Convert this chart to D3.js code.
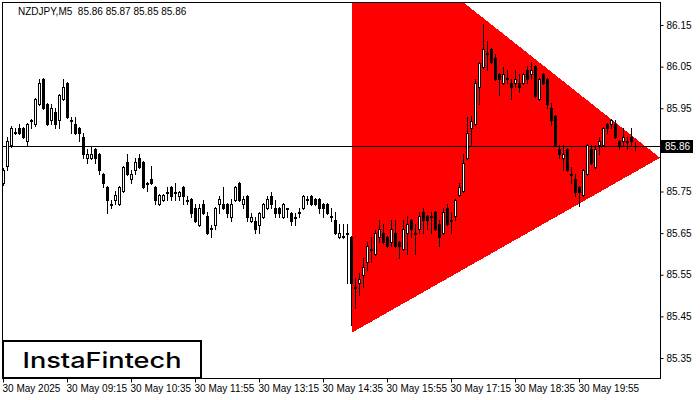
<!DOCTYPE html>
<html><head><meta charset="utf-8">
<script src="https://cdn.jsdelivr.net/npm/d3@7/dist/d3.min.js"></script>
<style>body{margin:0;background:#fff}svg{display:block}text{font-family:"Liberation Sans",Arial,sans-serif}</style>
</head><body><svg id="c" width="700" height="400"></svg>
<script>
const symbol = "NZDJPY,M5";
const lastOHLC = [85.86, 85.87, 85.85, 85.86];
const currentPrice = 85.86;
const open = [85.771,85.812,85.862,85.891,85.903,85.903,85.872,85.920,85.912,85.960,
86.020,85.960,85.922,85.941,85.922,85.972,86.011,85.920,85.912,85.903,
85.881,85.831,85.831,85.852,85.840,85.792,85.761,85.718,85.730,85.720,
85.752,85.821,85.780,85.802,85.831,85.821,85.771,85.780,85.761,85.720,
85.730,85.747,85.761,85.747,85.740,85.761,85.730,85.732,85.711,85.670,
85.720,85.692,85.660,85.670,85.720,85.720,85.720,85.689,85.730,85.771,
85.720,85.740,85.680,85.680,85.670,85.689,85.711,85.740,85.711,85.711,
85.689,85.708,85.699,85.689,85.701,85.711,85.730,85.740,85.732,85.732,
85.720,85.720,85.689,85.682,85.641,85.644,85.651,85.641,85.521,85.531,
85.550,85.581,85.610,85.600,85.641,85.651,85.641,85.629,85.651,85.629,
85.612,85.651,85.682,85.648,85.660,85.701,85.692,85.689,85.701,85.672,
85.651,85.711,85.680,85.692,85.742,85.752,85.831,85.903,85.912,86.001,
86.049,86.082,86.092,86.071,86.032,86.011,86.022,86.011,86.011,86.011,
86.011,86.042,86.032,86.052,85.972,86.032,86.020,85.951,85.932,85.852,
85.831,85.852,85.792,85.780,85.761,85.742,85.792,85.852,85.809,85.862,
85.862,85.912,85.912,85.912,85.872,85.872,85.870,85.881,85.860];
const high = [85.807,85.881,85.908,85.903,85.912,85.905,85.915,85.924,85.975,86.020,
86.023,85.963,85.960,85.951,85.984,86.020,86.013,85.929,85.929,85.905,
85.891,85.852,85.860,85.855,85.843,85.795,85.764,85.730,85.752,85.764,
85.812,85.840,85.802,85.831,85.840,85.824,85.773,85.812,85.764,85.744,
85.744,85.761,85.764,85.771,85.752,85.764,85.740,85.735,85.720,85.720,
85.730,85.701,85.670,85.713,85.740,85.761,85.723,85.732,85.764,85.773,
85.740,85.742,85.699,85.689,85.701,85.723,85.740,85.749,85.730,85.713,
85.723,85.711,85.701,85.699,85.711,85.742,85.740,85.742,85.735,85.735,
85.723,85.723,85.711,85.701,85.672,85.672,85.672,85.644,85.543,85.555,
85.591,85.629,85.641,85.658,85.682,85.672,85.644,85.682,85.682,85.632,
85.682,85.692,85.684,85.672,85.701,85.711,85.694,85.701,85.704,85.682,
85.711,85.720,85.701,85.732,85.771,85.840,85.929,85.932,86.020,86.061,
86.152,86.112,86.095,86.080,86.035,86.049,86.042,86.020,86.042,86.032,
86.035,86.052,86.061,86.054,86.023,86.035,86.023,85.963,85.934,85.862,
85.862,85.855,85.809,85.792,85.764,85.804,85.864,85.862,85.862,85.881,
85.905,85.915,85.924,85.922,85.874,85.903,85.881,85.903,85.870];
const low = [85.766,85.802,85.857,85.888,85.888,85.879,85.862,85.903,85.908,85.958,
85.948,85.910,85.912,85.903,85.903,85.970,85.927,85.891,85.888,85.872,
85.831,85.819,85.828,85.819,85.792,85.761,85.699,85.711,85.720,85.718,
85.749,85.790,85.771,85.792,85.807,85.759,85.752,85.768,85.720,85.718,
85.728,85.730,85.730,85.730,85.730,85.720,85.720,85.689,85.677,85.668,
85.696,85.648,85.641,85.660,85.699,85.708,85.689,85.680,85.728,85.728,
85.711,85.680,85.677,85.651,85.651,85.687,85.708,85.711,85.689,85.689,
85.687,85.689,85.670,85.670,85.689,85.708,85.720,85.718,85.718,85.699,
85.689,85.696,85.680,85.648,85.639,85.639,85.531,85.430,85.471,85.502,
85.521,85.562,85.581,85.598,85.629,85.627,85.617,85.620,85.617,85.591,
85.610,85.600,85.641,85.600,85.651,85.651,85.660,85.651,85.658,85.620,
85.648,85.670,85.651,85.682,85.740,85.749,85.828,85.862,85.910,85.960,
86.047,86.042,86.059,86.018,85.982,86.008,86.011,85.972,86.001,85.989,
86.008,86.011,86.020,85.977,85.970,86.008,85.951,85.910,85.860,85.831,
85.802,85.800,85.771,85.740,85.716,85.740,85.790,85.816,85.807,85.840,
85.860,85.891,85.903,85.879,85.852,85.862,85.852,85.862,85.850];
const close = [85.802,85.872,85.903,85.893,85.891,85.881,85.912,85.922,85.972,86.011,
85.951,85.912,85.951,85.912,85.982,86.001,85.929,85.922,85.891,85.891,
85.840,85.840,85.840,85.831,85.802,85.771,85.730,85.720,85.742,85.761,
85.809,85.792,85.792,85.821,85.809,85.761,85.768,85.771,85.730,85.742,
85.742,85.749,85.740,85.749,85.749,85.740,85.728,85.699,85.680,85.711,
85.699,85.651,85.663,85.711,85.732,85.711,85.699,85.720,85.761,85.730,
85.732,85.689,85.689,85.660,85.699,85.720,85.732,85.720,85.699,85.699,
85.720,85.711,85.680,85.687,85.699,85.740,85.732,85.720,85.720,85.711,
85.711,85.699,85.692,85.651,85.651,85.641,85.648,85.531,85.519,85.540,
85.569,85.620,85.612,85.651,85.660,85.629,85.620,85.660,85.620,85.620,
85.660,85.672,85.660,85.651,85.692,85.682,85.682,85.692,85.660,85.641,
85.701,85.672,85.682,85.730,85.761,85.819,85.891,85.920,86.011,86.059,
86.092,86.080,86.061,86.020,86.020,86.032,86.020,86.001,86.020,86.001,
86.032,86.020,86.042,85.980,86.020,86.011,85.960,85.922,85.862,85.840,
85.840,85.802,85.790,85.749,85.749,85.802,85.862,85.819,85.852,85.872,
85.903,85.903,85.922,85.881,85.862,85.881,85.872,85.872,85.860];
// x-axis tick labels and the bar index they sit on (5-minute bars)
const xTickBars = [0,16,32,48,64,80,96,112,128,144];
const xTickLabels = ["30 May 2025","30 May 09:15","30 May 10:35","30 May 11:55","30 May 13:15","30 May 14:35","30 May 15:55","30 May 17:15","30 May 18:35","30 May 19:55"];
const yTicks = [85.35,85.45,85.55,85.65,85.75,85.85,85.95,86.05,86.15];
// bearish triangle pattern vertices: [bar index, price]
const triBars = [87.25, 87.25, 164.25];
const triPrices = [86.416, 85.411, 85.831];
const logoText = "InstaFintech";

const svg = d3.select("#c");
const L = 2.5, R = 660.5, T = 2.5, B = 378.5;
const x = d3.scaleLinear().domain([0, 164.25]).range([3, 660]);
const y = d3.scaleLinear().domain([85.35, 86.15]).range([358, 25]);

svg.append("defs").append("clipPath").attr("id","plot")
  .append("rect").attr("x",L).attr("y",T).attr("width",R-L).attr("height",B-T);
const g = svg.append("g").attr("clip-path","url(#plot)");

// triangle
g.append("path")
  .attr("d", d3.line()(triBars.map((b,i)=>[x(b), y(triPrices[i])])) + "Z")
  .attr("fill","#ff0000").attr("shape-rendering","crispEdges");

// current price line
const yp = Math.round(y(currentPrice)) + 0.5;
g.append("line").attr("x1",L).attr("x2",R).attr("y1",yp).attr("y2",yp)
  .attr("stroke","#000").attr("stroke-width",1);

// candles
const idx = d3.range(open.length);
const cg = g.append("g").attr("shape-rendering","crispEdges");
idx.forEach(i=>{
  const cx = Math.round(x(i));
  const yh = Math.round(y(high[i])), yl = Math.round(y(low[i]));
  const yo = Math.round(y(open[i])), yc = Math.round(y(close[i]));
  cg.append("line").attr("x1",cx+0.5).attr("x2",cx+0.5).attr("y1",yh).attr("y2",yl+1).attr("stroke","#000");
  const top = Math.min(yo,yc), bot = Math.max(yo,yc);
  if (bot - top < 1) {
    cg.append("line").attr("x1",cx-1).attr("x2",cx+2).attr("y1",top+0.5).attr("y2",top+0.5).attr("stroke","#000");
  } else if (close[i] > open[i]) {
    cg.append("rect").attr("x",cx-0.5).attr("y",top+0.5).attr("width",2).attr("height",bot-top)
      .attr("fill","#fff").attr("stroke","#000");
  } else {
    cg.append("rect").attr("x",cx-1).attr("y",top).attr("width",3).attr("height",bot-top+1).attr("fill","#000");
  }
});

// frame
svg.append("rect").attr("x",L).attr("y",T).attr("width",R-L).attr("height",B-T)
  .attr("fill","none").attr("stroke","#000");

// right axis (the 85.85 label sits under the current-price box, so it is not drawn)
const ya = svg.append("g").attr("transform",`translate(${R},0)`)
  .call(d3.axisRight(y).tickValues(yTicks)
    .tickFormat(d => Math.abs(d - currentPrice) < 0.02 ? "" : d3.format(".2f")(d))
    .tickSize(3).tickPadding(3));
ya.select(".domain").remove();
ya.selectAll("text").attr("font-size","10px").attr("fill","#000").style("font-family","'Liberation Sans',Arial,sans-serif");
ya.selectAll("line").attr("stroke","#000");

// bottom axis
const xa = svg.append("g").attr("transform",`translate(0,${B})`)
  .call(d3.axisBottom(x).tickValues(xTickBars).tickFormat((d,i)=>xTickLabels[i]).tickSize(4).tickPadding(2));
xa.select(".domain").remove();
xa.selectAll("line").attr("stroke","#000");
xa.selectAll("text").attr("font-size","10px").attr("fill","#000").attr("text-anchor","start").attr("dx","-1")
  .style("font-family","'Liberation Sans',Arial,sans-serif");

// current price box
svg.append("rect").attr("x",661).attr("y",Math.round(y(currentPrice))-6).attr("width",32).attr("height",13).attr("fill","#000");
svg.append("text").attr("x",665).attr("y",Math.round(y(currentPrice))).attr("dy","0.35em")
  .attr("font-size","10px").attr("fill","#fff").text(currentPrice.toFixed(2));

// title
svg.append("text").attr("x",18).attr("y",15).attr("font-size","10px").attr("fill","#000")
  .style("white-space","pre").text(symbol + "  " + lastOHLC.map(v=>v.toFixed(2)).join(" "));

// logo
svg.append("rect").attr("x",3).attr("y",341).attr("width",198).attr("height",37)
  .attr("fill","#fff").attr("stroke","#000").attr("stroke-width",2);
svg.append("text").attr("x",102).attr("y",360).attr("dy","0.36em").attr("text-anchor","middle")
  .attr("font-size","22px").attr("font-weight","500").style("font-family","Inter, 'Open Sans', sans-serif")
  .attr("textLength",159).attr("lengthAdjust","spacingAndGlyphs").attr("fill","#000").text(logoText);
</script></body></html>
